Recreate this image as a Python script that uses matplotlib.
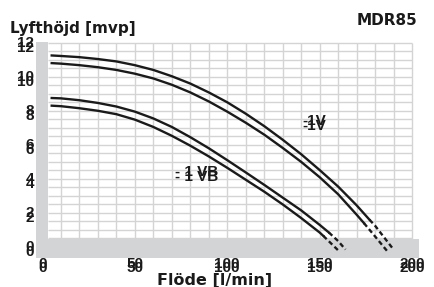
import numpy as np
import matplotlib.pyplot as plt
from matplotlib import transforms

# pump curves (flow l/min, head mvp)
flow_1v_a = [5, 10, 20, 30, 40, 50, 60, 70, 80, 90, 100, 110, 120, 130, 140, 150, 160, 170, 177, 180, 190]
head_1v_a = [11.25, 11.22, 11.15, 11.04, 10.9, 10.68, 10.4, 10.03, 9.6, 9.08, 8.5, 7.83, 7.1, 6.3, 5.45,
             4.52, 3.55, 2.45, 1.6, 1.25, -0.15]
flow_1v_b = [5, 10, 20, 30, 40, 50, 60, 70, 80, 90, 100, 110, 120, 130, 140, 150, 160, 170, 174, 180, 187]
head_1v_b = [10.8, 10.77, 10.68, 10.56, 10.4, 10.18, 9.9, 9.53, 9.08, 8.55, 7.95, 7.3, 6.6, 5.82, 5.0,
             4.1, 3.1, 1.9, 1.4, 0.62, -0.3]
flow_1vb_a = [5, 10, 20, 30, 40, 50, 60, 70, 80, 90, 100, 110, 120, 130, 140, 150, 155, 160, 164]
head_1vb_a = [8.75, 8.73, 8.62, 8.46, 8.25, 7.95, 7.55, 7.05, 6.45, 5.8, 5.1, 4.38, 3.65, 2.9, 2.15,
              1.3, 0.85, 0.35, -0.15]
flow_1vb_b = [5, 10, 20, 30, 40, 50, 60, 70, 80, 90, 100, 110, 120, 130, 140, 150, 152, 161]
head_1vb_b = [8.3, 8.27, 8.15, 8.0, 7.8, 7.48, 7.05, 6.53, 5.95, 5.32, 4.65, 3.95, 3.25, 2.5, 1.7,
              0.85, 0.65, -0.3]
dash_from = [177, 174, 155, 152]

x_ticks = [0, 50, 100, 150, 200]
y_ticks = [0, 2, 4, 6, 8, 10, 12]

GRID = '#d4d4d4'
BAND = '#d3d4d6'
INK = '#1a1a1a'
tick_font = dict(family='Liberation Sans', weight='bold', size=11, color=INK)

fig = plt.figure(figsize=(4.34, 2.87), dpi=100)
ax = fig.add_axes([36 / 434, 29 / 287, 383 / 434, 217 / 287])
ax.set_xlim(-3.5, 203.8)
ax.set_ylim(-0.65, 12.1)
ax.set_axis_off()

# grid
ax.vlines(np.arange(10, 201, 10), 0.47, 12, color=GRID, lw=1.0, zorder=1)
ax.hlines(np.arange(0.5, 12.01, 0.5), 3, 200, color=GRID, lw=1.0, zorder=1)

# grey L-shaped frame
ax.axvspan(-3.5, 3, ymin=0, ymax=(12.04 + 0.65) / 12.75, color=BAND, lw=0, zorder=2)
ax.axhspan(-0.65, 0.47, color=BAND, lw=0, zorder=2)

curves = [(flow_1v_a, head_1v_a), (flow_1v_b, head_1v_b),
          (flow_1vb_a, head_1vb_a), (flow_1vb_b, head_1vb_b)]
for (q, h), qd in zip(curves, dash_from):
    q = np.array(q)
    h = np.array(h)
    solid = q <= qd
    dashed = q >= qd
    ax.plot(q[solid], h[solid], color=INK, lw=1.7, solid_joinstyle='round', zorder=3)
    ax.plot(q[dashed], h[dashed], color=INK, lw=1.7, ls=(0, (2, 1.3)), zorder=3)

# tick labels, printed twice like the scanned original
def shifted(base, dx, dy):
    return transforms.offset_copy(base, fig=fig, x=dx, y=dy, units='dots')

xbase = transforms.blended_transform_factory(ax.transData, ax.transAxes)
ybase = transforms.blended_transform_factory(ax.transAxes, ax.transData)
for xv in x_ticks:
    for dy in (-14, -10.5):
        ax.text(xv, 0, str(xv), ha='center', va='baseline',
                transform=shifted(xbase, 0, dy), **tick_font)
for yv in y_ticks:
    for dy in (-9, -4.5):
        ax.text(0, yv, str(yv), ha='right', va='baseline',
                transform=shifted(ybase, -2, dy), **tick_font)

# curve labels, doubled as well
for dy in (0, 5):
    ax.text(147, 7.1, '-1V', ha='center', va='center',
            transform=shifted(ax.transData, 0, dy), **tick_font)
    ax.text(83.4, 4.1, '- 1 VB', ha='center', va='center',
            transform=shifted(ax.transData, 0, dy), **tick_font)

fig.text(10 / 434, 1 - 33.5 / 287, 'Lyfthöjd [mvp]', ha='left', va='baseline',
         family='DejaVu Sans', weight='bold', size=11, color=INK)
fig.text(417 / 434, 1 - 25 / 287, 'MDR85', ha='right', va='baseline',
         family='DejaVu Sans', weight='bold', size=11, color=INK)
fig.text(215 / 434, 2 / 287, 'Flöde [l/min]', ha='center', va='baseline',
         family='DejaVu Sans', weight='bold', size=11.5, color=INK)

fig.savefig('out.png', dpi=100)
